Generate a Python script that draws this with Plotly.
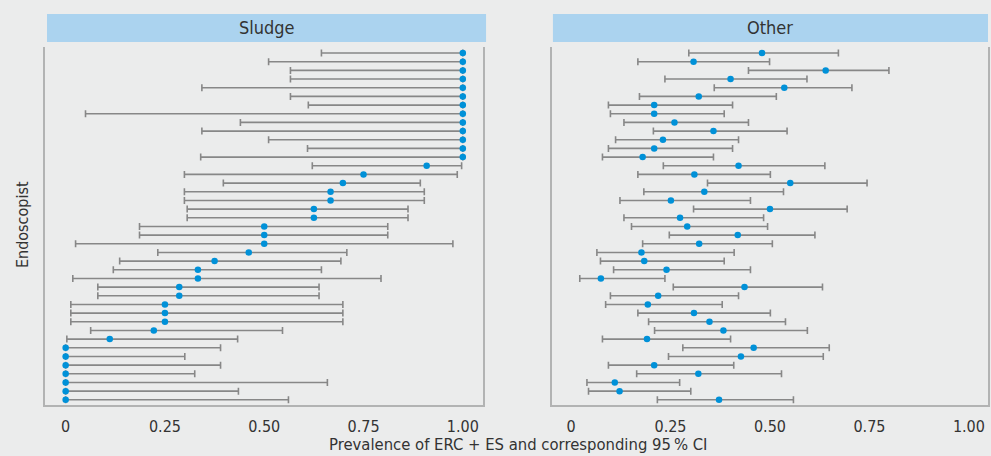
import plotly.graph_objects as go

# Data: rows = endoscopists (top to bottom), values = prevalence, 95% CI lower/upper
rows = list(range(1, 42))

sludge_est = [1, 1, 1, 1, 1, 1, 1, 1, 1, 1, 1, 1, 1, 0.909,
              0.750, 0.698, 0.667, 0.667, 0.625, 0.625, 0.5, 0.5, 0.5, 0.461,
              0.375, 0.333, 0.333, 0.286, 0.286, 0.25, 0.25, 0.25, 0.222, 0.111,
              0, 0, 0, 0, 0, 0, 0]
sludge_lo = [0.644, 0.511, 0.566, 0.566, 0.343, 0.566, 0.611, 0.050, 0.440, 0.343,
             0.511, 0.609, 0.340, 0.621, 0.299, 0.397, 0.299, 0.299, 0.306, 0.306,
             0.186, 0.186, 0.025, 0.232, 0.136, 0.120, 0.018, 0.081, 0.081, 0.013,
             0.013, 0.013, 0.063, 0.003, 0, 0, 0, 0, 0, 0, 0]
sludge_hi = [1, 1, 1, 1, 1, 1, 1, 1, 1, 1, 1, 1, 1, 0.997,
             0.986, 0.893, 0.903, 0.903, 0.862, 0.862, 0.811, 0.811, 0.975, 0.708,
             0.693, 0.644, 0.794, 0.638, 0.638, 0.698, 0.698, 0.698, 0.546, 0.433,
             0.390, 0.300, 0.390, 0.325, 0.659, 0.435, 0.561]

other_est = [0.480, 0.308, 0.640, 0.401, 0.536, 0.321, 0.209, 0.209, 0.260, 0.358,
             0.231, 0.209, 0.180, 0.421, 0.310, 0.551, 0.335, 0.251, 0.500, 0.274,
             0.292, 0.419, 0.322, 0.177, 0.184, 0.240, 0.075, 0.436, 0.219, 0.193,
             0.309, 0.348, 0.383, 0.191, 0.459, 0.427, 0.209, 0.320, 0.110, 0.122,
             0.372]
other_lo = [0.296, 0.168, 0.446, 0.236, 0.360, 0.172, 0.094, 0.099, 0.133, 0.207,
            0.112, 0.094, 0.079, 0.232, 0.168, 0.343, 0.183, 0.123, 0.308, 0.133,
            0.152, 0.247, 0.180, 0.065, 0.074, 0.107, 0.022, 0.257, 0.099, 0.087,
            0.168, 0.195, 0.210, 0.079, 0.281, 0.245, 0.094, 0.165, 0.040, 0.044,
            0.217]
other_hi = [0.672, 0.499, 0.799, 0.593, 0.706, 0.516, 0.406, 0.385, 0.446, 0.543,
            0.421, 0.406, 0.358, 0.638, 0.501, 0.744, 0.534, 0.451, 0.694, 0.484,
            0.494, 0.613, 0.506, 0.410, 0.385, 0.451, 0.236, 0.632, 0.421, 0.380,
            0.501, 0.539, 0.594, 0.401, 0.649, 0.634, 0.409, 0.529, 0.273, 0.301,
            0.559]

panel_titles = ["Sludge", "Other"]
tick_vals = [0, 0.25, 0.5, 0.75, 1.0]
tick_text = ["0", "0.25", "0.50", "0.75", "1.00"]
x_title = "Prevalence of ERC + ES and corresponding 95\u202f% CI"
y_title = "Endoscopist"

BG = "#ebecec"
DOT = "#0091d8"
BAR = "#878787"
AXL = "#b2b3b3"
TXT = "#333333"
FONT = "DejaVu Sans Condensed, Roboto, sans-serif"

W, H = 991, 456
ML, MR, MT, MB = 45, 1, 47, 51
plot_w = W - ML - MR
plot_h = H - MT - MB

fig = go.Figure()

def add_panel(est, lo, hi, xa, ya):
    plus = [h - e for h, e in zip(hi, est)]
    minus = [e - l for e, l in zip(est, lo)]
    fig.add_trace(go.Scatter(
        x=est, y=rows, mode="markers", xaxis=xa, yaxis=ya,
        marker=dict(color=DOT, size=6.5),
        error_x=dict(type="data", array=plus, arrayminus=minus, symmetric=False,
                     color=BAR, thickness=1.6, width=3.5),
        showlegend=False, hoverinfo="x+y"))

add_panel(sludge_est, sludge_lo, sludge_hi, "x", "y")
add_panel(other_est, other_lo, other_hi, "x2", "y2")

d1 = [0, (484 - ML) / plot_w]
d2 = [(553 - ML) / plot_w, 1]

axis_common = dict(showgrid=False, zeroline=False, tickvals=tick_vals, ticktext=tick_text,
                   showline=True, linecolor=AXL, linewidth=2, ticks="outside",
                   ticklen=6, tickcolor=BG, tickfont=dict(size=16, color=TXT, family=FONT))
yaxis_common = dict(showgrid=False, zeroline=False, showticklabels=False,
                    range=[41.6, 0.3], showline=True, mirror=True,
                    linecolor=AXL, linewidth=2)

fig.update_layout(
    width=W, height=H,
    margin=dict(l=ML, r=MR, t=MT, b=MB),
    paper_bgcolor=BG, plot_bgcolor=BG,
    font=dict(family=FONT, color=TXT),
    xaxis=dict(domain=d1, range=[-0.052, 1.051], anchor="y", **axis_common),
    xaxis2=dict(domain=d2, range=[-0.048, 1.048], anchor="y2", **axis_common),
    yaxis=dict(domain=[0, 1], anchor="x", **yaxis_common),
    yaxis2=dict(domain=[0, 1], anchor="x2", **yaxis_common),
)

# panel title strips
y0 = 1 + (MT - 42) / plot_h
y1 = 1 + (MT - 14) / plot_h
strips = [((47 - ML) / plot_w, (487 - ML) / plot_w), ((554 - ML) / plot_w, 1.0)]
for (sx0, sx1), title in zip(strips, panel_titles):
    fig.add_shape(type="rect", xref="paper", yref="paper", x0=sx0, x1=sx1, y0=y0, y1=y1,
                  fillcolor="#abd3ef", line=dict(width=0), layer="below")
    fig.add_annotation(xref="paper", yref="paper", x=(sx0 + sx1) / 2, y=(y0 + y1) / 2,
                       text=title, showarrow=False, font=dict(size=18, color=TXT, family=FONT),
                       xanchor="center", yanchor="middle")

fig.add_annotation(xref="paper", yref="paper", x=(519 - ML) / plot_w, y=-(444 - (H - MB)) / plot_h,
                   text=x_title, showarrow=False, font=dict(size=16.5, color=TXT, family=FONT),
                   xanchor="center", yanchor="middle")
fig.add_annotation(xref="paper", yref="paper", x=-(ML - 22) / plot_w, y=1 - (225 - MT) / plot_h,
                   text=y_title, showarrow=False, textangle=-90,
                   font=dict(size=16, color=TXT, family=FONT),
                   xanchor="center", yanchor="middle")

fig.write_html("out.html", config={"displayModeBar": False},
               post_script="document.body.style.margin='0';document.body.style.padding='0';"
                           "document.body.style.background='" + BG + "';")
